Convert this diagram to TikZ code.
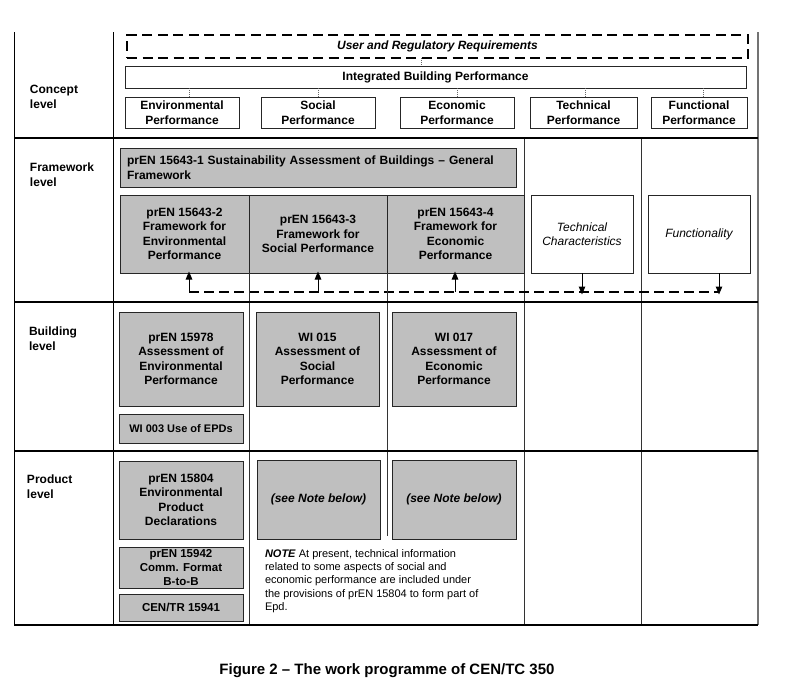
\documentclass[tikz,border=0pt]{standalone}
\usepackage{fontspec}
\setmainfont{Liberation Sans}
\usetikzlibrary{arrows.meta}
\begin{document}
\begin{tikzpicture}[x=1pt,y=-1pt,
  every node/.style={inner sep=0pt, outer sep=0pt},
  bx/.style={draw=black!85, line width=1pt, align=center, font=\fontsize{12}{14.5}\selectfont\bfseries},
  gbx/.style={bx, fill=gray!50},
  wbx/.style={bx, fill=white},
  lbl/.style={anchor=west, align=left, font=\fontsize{12}{14.5}\selectfont\bfseries},
  rowline/.style={line width=2.4pt, black},
  colline/.style={line width=0.8pt, black!80},
  dotc/.style={draw=black!60, line width=0.6pt, dash pattern=on 1pt off 1pt},
  dline/.style={line width=1.4pt, dash pattern=on 10pt off 5pt},
  arr/.style={line width=1pt, -{Triangle[length=8pt,width=6.5pt]}}
]
\fill[white] (0,0) rectangle (796,688);
\useasboundingbox (0,0) rectangle (796,688);

% ---- table lines ----
\draw[line width=1pt] (14,32) -- (14,625);
\draw[line width=1pt] (113,32) -- (113,625);
\draw[line width=2pt, black!55] (758,32) -- (758,625);
\draw[colline] (524,138) -- (524,625);
\draw[colline] (641,138) -- (641,625);

% ---- row labels ----
\node[lbl] (lc) at (30,97) {Concept\\level};
\node[lbl] (lf) at (30,174.5) {Framework\\level};
\node[lbl] (lb) at (29,338.5) {Building\\level};
\node[lbl] (lp) at (27,486.5) {Product\\level};

% ---- concept level ----
\node[draw, line width=1.6pt, dash pattern=on 10pt off 5.5pt, minimum width=621, minimum height=23,
      font=\fontsize{12}{14.5}\selectfont\bfseries\itshape] (req) at (437.5,46.5) {User and Regulatory Requirements};
\node[wbx, minimum width=621, minimum height=22] (ibp) at (435.5,77) {Integrated Building Performance};
\node[wbx, minimum width=114, minimum height=31] (env) at (182,112.5) {Environmental\\Performance};
\node[wbx, minimum width=114, minimum height=31] (soc) at (318,112.5) {Social\\Performance};
\node[wbx, minimum width=114, minimum height=31] (eco) at (457,112.5) {Economic\\Performance};
\node[wbx, minimum width=107, minimum height=31] (tec) at (583.5,112.5) {Technical\\Performance};
\node[wbx, minimum width=96, minimum height=31] (fun) at (699,112.5) {Functional\\Performance};

\coordinate (rq) at (421,58);
\draw[dotc] (rq) -- (rq |- ibp.north);
\draw[dotc] ([xshift=7]env.north) -- ([xshift=7]env.north |- ibp.south);
\draw[dotc] (soc.north) -- (soc.north |- ibp.south);
\draw[dotc] (eco.north) -- (eco.north |- ibp.south);
\draw[dotc] ([xshift=1.5]tec.north) -- ([xshift=1.5]tec.north |- ibp.south);
\draw[dotc] ([xshift=4]fun.north) -- ([xshift=4]fun.north |- ibp.south);

% ---- framework level ----
\node[gbx, minimum width=396, minimum height=39, text width=382, align=left] (f1) at (318,167.5)
  {prEN 15643-1 Sustainability Assessment of Buildings -- General\\Framework};
\node[gbx, minimum width=129, minimum height=78] (f2) at (184.5,234) {prEN 15643-2\\Framework for\\Environmental\\Performance};
\node[gbx, minimum width=138, minimum height=78] (f3) at (318,234) {prEN 15643-3\\Framework for\\Social Performance};
\node[gbx, minimum width=137, minimum height=78] (f4) at (455.5,234) {prEN 15643-4\\Framework for\\Economic\\Performance};
\node[wbx, minimum width=102, minimum height=78, font=\fontsize{12}{14.5}\selectfont\itshape] (ftc) at (582,234) {Technical\\Characteristics};
\node[wbx, minimum width=102, minimum height=78, font=\fontsize{12}{14.5}\selectfont\itshape] (ffu) at (699,234) {Functionality};

\coordinate (a1) at (189,292);
\coordinate (a2) at (318,292);
\coordinate (a3) at (455,292);
\coordinate (a4) at (582,292);
\coordinate (a5) at (719,292);
\draw[dline] (a1) -- (a5);
\draw[arr] (a1) -- ([yshift=1.5]a1 |- f2.south);
\draw[arr] (a2) -- ([yshift=1.5]a2 |- f3.south);
\draw[arr] (a3) -- ([yshift=1.5]a3 |- f4.south);
\draw[arr] (a4 |- ftc.south) -- ([yshift=-2.5]a4);
\draw[arr] (a5 |- ffu.south) -- ([yshift=-2.5]a5);

\draw[colline] (f2.south east) -- (f2.south east |- 0,625);
\draw[colline] (f3.south east) -- (f3.south east |- 0,536);

% ---- building level ----
\node[gbx, minimum width=124, minimum height=94] (b1) at (181,359) {prEN 15978\\Assessment of\\Environmental\\Performance};
\node[gbx, minimum width=124, minimum height=29, font=\fontsize{11}{13}\selectfont\bfseries] (b2) at (181,428.5) {WI 003 Use of EPDs};
\node[gbx, minimum width=123, minimum height=94] (b3) at (317.5,359) {WI 015\\Assessment of\\Social\\Performance};
\node[gbx, minimum width=124, minimum height=94] (b4) at (454,359) {WI 017\\Assessment of\\Economic\\Performance};

% ---- product level ----
\node[gbx, minimum width=124, minimum height=78] (p1) at (181,500) {prEN 15804\\Environmental\\Product\\Declarations};
\node[gbx, minimum width=124, minimum height=41, font=\fontsize{11.5}{14}\selectfont\bfseries] (p2) at (181,567.5) {prEN 15942\\Comm. Format\\B-to-B};
\node[gbx, minimum width=124, minimum height=27, font=\fontsize{11.5}{14}\selectfont\bfseries] (p3) at (181,607.5) {CEN/TR 15941};
\node[gbx, minimum width=123, minimum height=79, font=\fontsize{12}{14.5}\selectfont\bfseries\itshape] (n1) at (318.5,499.5) {(see Note below)};
\node[gbx, minimum width=124, minimum height=79, font=\fontsize{12}{14.5}\selectfont\bfseries\itshape] (n2) at (454,499.5) {(see Note below)};
\node[anchor=north west, align=left, font=\fontsize{11}{13.2}\selectfont] (note) at (265,549.5)
  {\textbf{\textit{NOTE}} At present, technical information\\related to some aspects of social and\\economic performance are included under\\the provisions of prEN 15804 to form part of\\Epd.};

% ---- row lines ----
\draw[rowline] (14,138) -- (758,138);
\draw[rowline] (14,302) -- (758,302);
\draw[rowline] (14,451) -- (758,451);
\draw[rowline] (14,625) -- (758,625);

% ---- caption ----
\node[font=\fontsize{15}{18}\selectfont\bfseries] (cap) at (387,671) {Figure 2 -- The work programme of CEN/TC 350};
\end{tikzpicture}
\end{document}
